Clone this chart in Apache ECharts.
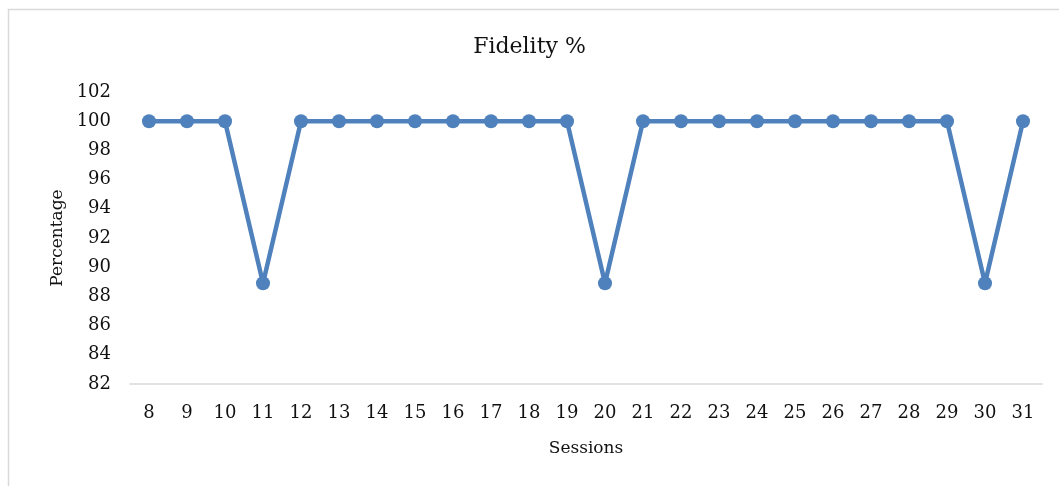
<!DOCTYPE html>
<html>
<head>
<meta charset="utf-8">
<script src="https://cdn.jsdelivr.net/npm/echarts@6/dist/echarts.min.js"></script>
<style>
  html, body { margin: 0; padding: 0; background: #fff; }
  #chart { width: 1059px; height: 486px; }
</style>
</head>
<body>
<div id="chart"></div>
<script>
// Session numbers along the x axis
const sessions = ['8','9','10','11','12','13','14','15','16','17','18','19','20','21','22','23','24','25','26','27','28','29','30','31'];
// Fidelity percentage per session
const fidelity = [100,100,100,88.9,100,100,100,100,100,100,100,100,88.9,100,100,100,100,100,100,100,100,100,88.9,100];

const serif = '"DejaVu Serif", "Liberation Serif", serif';
const ink = '#111111';
const chart = echarts.init(document.getElementById('chart'));
chart.setOption({
  animation: false,
  backgroundColor: '#ffffff',
  graphic: [{
    type: 'rect',
    shape: { x: 8.5, y: 9.5, width: 1200, height: 700 },
    style: { fill: 'none', stroke: '#d9d9d9', lineWidth: 1.5 },
    silent: true
  }],
  title: {
    text: 'Fidelity %',
    left: 'center',
    top: 31,
    textStyle: { fontFamily: serif, fontSize: 22, fontWeight: 'normal', color: ink }
  },
  grid: { left: 130, right: 17, top: 92, bottom: 102 },
  xAxis: {
    type: 'category',
    data: sessions,
    boundaryGap: true,
    name: 'Sessions',
    nameLocation: 'middle',
    nameGap: 56,
    nameTextStyle: { fontFamily: serif, fontSize: 17, color: ink },
    axisLine: { lineStyle: { color: '#d9d9d9', width: 1.5 } },
    axisTick: { show: false },
    axisLabel: { fontFamily: serif, fontSize: 18, color: ink, margin: 20 }
  },
  yAxis: {
    type: 'value',
    min: 82,
    max: 102,
    interval: 2,
    name: 'Percentage',
    nameLocation: 'middle',
    nameRotate: 90,
    nameGap: 64,
    nameTextStyle: { fontFamily: serif, fontSize: 17, color: ink },
    axisLine: { show: false },
    axisTick: { show: false },
    splitLine: { show: false },
    axisLabel: { fontFamily: serif, fontSize: 18, color: ink, margin: 19 }
  },
  series: [{
    type: 'line',
    data: fidelity,
    symbol: 'circle',
    symbolSize: 14,
    lineStyle: { color: '#4f81bd', width: 4.5 },
    itemStyle: { color: '#4f81bd' }
  }]
});
</script>
</body>
</html>
